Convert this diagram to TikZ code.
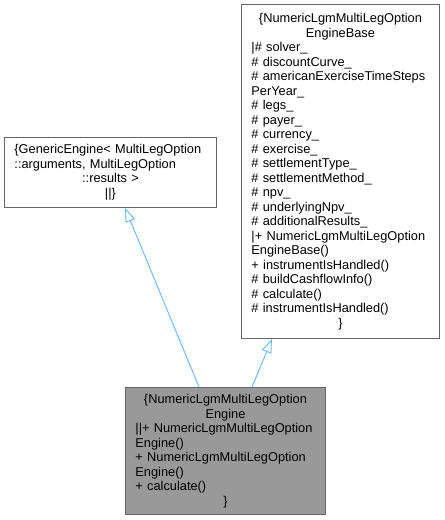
\documentclass[tikz,border=0pt]{standalone}
\usepackage{fontspec}
\setmainfont{Liberation Sans}
\usetikzlibrary{arrows.meta,calc}
\definecolor{edgeblue}{HTML}{63B8FF}
\definecolor{boxline}{HTML}{666666}
\definecolor{boxgray}{HTML}{999999}
\begin{document}
\begin{tikzpicture}[x=1bp,y=-1bp,
  cls/.style={draw=boxline, line width=0.9bp, fill=white, rectangle, anchor=north west,
    inner xsep=10bp, inner ysep=0bp, font=\fontsize{12.8bp}{14.5bp}\selectfont},
  inh/.style={draw=edgeblue, line width=0.9bp,
    -{Triangle[length=14bp,width=10bp,fill=white]}}]
\useasboundingbox (0,0) rectangle (445,520);
\node[cls, text width=178bp, minimum width=198bp, minimum height=334bp] (base) at (241,4)
 {{\centering \{NumericLgmMultiLegOption\\EngineBase\par}%
  {\raggedright |\# solver\_\\
  \# discountCurve\_\\
  \# americanExerciseTimeSteps\\
  PerYear\_\\
  \# legs\_\\
  \# payer\_\\
  \# currency\_\\
  \# exercise\_\\
  \# settlementType\_\\
  \# settlementMethod\_\\
  \# npv\_\\
  \# underlyingNpv\_\\
  \# additionalResults\_\\
  |+ NumericLgmMultiLegOption\\
  EngineBase()\\
  + instrumentIsHandled()\\
  \# buildCashflowInfo()\\
  \# calculate()\\
  \# instrumentIsHandled()\par}%
  {\centering \}\par}};
\node[cls, text width=192bp, minimum width=212bp, minimum height=70bp] (gen) at (4,137)
 {{\raggedright \{GenericEngine\textless{} MultiLegOption\\
  ::arguments, MultiLegOption\par}%
  {\centering ::results \textgreater\\
  ||\}\par}};
\node[cls, fill=boxgray, text width=180bp, minimum width=200bp, minimum height=127bp] (eng) at (125,387)
 {{\centering \{NumericLgmMultiLegOption\\Engine\par}%
  {\raggedright ||+ NumericLgmMultiLegOption\\
  Engine()\\
  + NumericLgmMultiLegOption\\
  Engine()\\
  + calculate()\par}%
  {\centering \}\par}};
\draw[inh] ($(eng.north west)+(74,0)$) -- ($(gen.south west)+(121,0)$);
\draw[inh] ($(eng.north west)+(127,0)$) -- ($(base.south west)+(31,0)$);
\end{tikzpicture}
\end{document}
